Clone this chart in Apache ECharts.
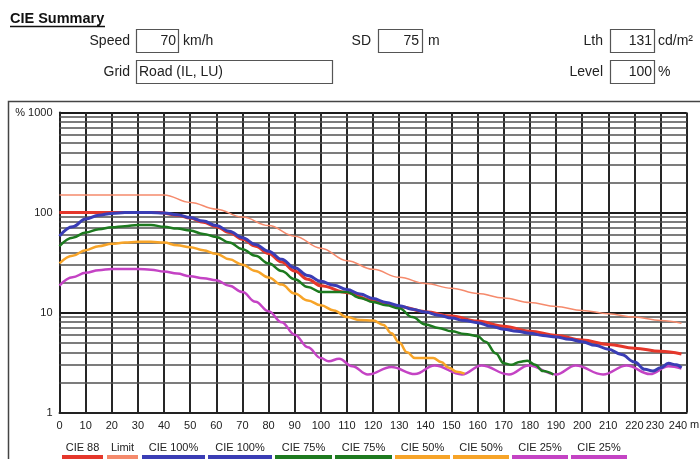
<!DOCTYPE html>
<html>
<head>
<meta charset="utf-8">
<script src="https://cdn.jsdelivr.net/npm/echarts@6/dist/echarts.min.js"></script>
<style>
  html, body { margin: 0; padding: 0; background: #fff; }
  #chart { width: 700px; height: 459px; }
</style>
</head>
<body>
<div id="chart"></div>
<script>
// distances (m) and relative luminance (%)
const limitDist = [0, 40, 50, 60, 70, 80, 90, 100, 110, 120, 130, 140, 150, 160, 170, 180, 190, 200, 210, 220, 230, 238];
const limitVal = [150, 150, 126, 108, 90, 74, 58, 44, 33, 27, 22.5, 19.5, 17.5, 15.5, 14, 12.6, 11.5, 10.5, 9.7, 9, 8.3, 7.8];

const cie88Dist = [0, 10, 20, 30, 38, 45, 50, 55, 60, 65, 70, 75, 80, 85, 90, 95, 100, 110, 120, 130, 140, 150, 160, 170, 180, 190, 200, 210, 220, 230, 238];
const cie88Val = [100, 100, 100, 100, 100, 94, 88, 80, 72, 63, 54, 46, 39, 32, 26, 21.5, 18.5, 15.8, 13.2, 11.5, 10.2, 9.2, 8.2, 7.3, 6.5, 5.9, 5.3, 4.8, 4.4, 4.1, 3.85];

const cie100Dist = [0, 5, 10, 15, 20, 25, 30, 35, 40, 45, 50, 55, 60, 65, 70, 75, 80, 85, 90, 95, 100, 105, 110, 115, 120, 125, 130, 135, 140, 145, 150, 155, 160, 165, 170, 175, 180, 185, 190, 195, 200, 205, 210, 215, 220, 224, 227, 230, 233, 236, 238];
const cie100Val = [58, 72, 86, 94, 98, 100, 100, 100, 99, 95, 89, 82, 74, 65, 56, 48, 41, 34, 28, 23.5, 20.5, 18.7, 17, 15.3, 13.8, 12.6, 11.7, 10.8, 10.1, 9.4, 8.8, 8.3, 7.9, 7.3, 6.8, 6.5, 6.2, 5.9, 5.7, 5.4, 5.1, 4.7, 4.3, 3.8, 3.2, 2.7, 2.6, 2.8, 3.1, 3.0, 2.8];

const cie75Dist = [0, 5, 10, 15, 20, 25, 30, 35, 40, 45, 50, 55, 60, 65, 70, 75, 80, 85, 90, 95, 100, 105, 110, 115, 120, 125, 130, 135, 140, 145, 150, 155, 160, 163, 167, 170, 173, 176, 179, 182, 185, 189];
const cie75Val = [46, 56, 63, 68, 71, 73, 75, 75, 72, 69, 66, 61, 57, 50, 43, 37, 31, 26, 21.5, 18, 16, 16, 16, 14, 12.7, 11.8, 11, 9, 7.6, 7, 6.5, 6.1, 5.8, 5.1, 3.9, 3.1, 3.0, 3.2, 3.3, 3.0, 2.6, 2.4];

const cie50Dist = [0, 5, 10, 15, 20, 25, 30, 35, 40, 45, 50, 55, 60, 65, 70, 75, 80, 85, 90, 95, 100, 105, 110, 115, 120, 124, 127, 130, 133, 136, 140, 143, 146, 149, 152, 155];
const cie50Val = [31, 37, 42, 46, 48.6, 50, 51, 51, 50, 47, 45, 42, 38.6, 34, 30, 26, 22.4, 19, 15.5, 13.2, 11.8, 10.5, 9, 8.4, 8.3, 7.5, 6.2, 5.0, 4.0, 3.5, 3.5, 3.5, 3.2, 2.8, 2.55, 2.45];

const cie25Dist = [0, 5, 10, 15, 20, 25, 30, 35, 40, 45, 50, 55, 60, 65, 70, 75, 80, 85, 90, 95, 100, 103, 107, 112, 118, 127, 136, 143.5, 154, 161.5, 172, 179.5, 190, 197.5, 208, 217, 226, 233, 238];
const cie25Val = [18.6, 22.5, 25, 26.5, 27.2, 27.3, 27.2, 26.8, 25.7, 24.5, 23, 22, 21, 18.5, 16, 12.8, 10.3, 8, 6, 4.5, 3.5, 3.25, 3.45, 2.9, 2.4, 2.85, 2.42, 2.95, 2.4, 2.95, 2.4, 2.95, 2.4, 2.95, 2.4, 2.95, 2.42, 2.9, 2.75];

// grid lines between the decades
const minorLevels = [2, 3, 4, 5, 6, 7, 8, 9, 20, 30, 40, 50, 60, 70, 80, 90, 200, 300, 400, 500, 600, 700, 800, 900];

// legend entries below the chart
const legendNames = ['CIE 88', 'Limit', 'CIE 100%', 'CIE 100%', 'CIE 75%', 'CIE 75%', 'CIE 50%', 'CIE 50%', 'CIE 25%', 'CIE 25%'];

// header values
const speed = '70';
const sd = '75';
const lth = '131';
const level = '100';
const gridName = 'Road (IL, LU)';

const colors = {
  limit: '#f58a6c',
  cie88: '#e5372b',
  cie100: '#3a3db5',
  cie75: '#1d7a1f',
  cie50: '#f7a428',
  cie25: '#c443c4'
};
const legendColors = [colors.cie88, colors.limit, colors.cie100, colors.cie100, colors.cie75, colors.cie75, colors.cie50, colors.cie50, colors.cie25, colors.cie25];
const legendBars = [[62, 103], [107, 138], [142, 205], [208, 272], [275, 332], [335, 392], [395, 450], [453, 509], [512, 568], [571, 627]];

const FONT = '"Liberation Sans", Arial, sans-serif';
const pair = (xs, ys) => xs.map((x, i) => [x, ys[i]]);

const chart = echarts.init(document.getElementById('chart'), null, { renderer: 'canvas' });

const txt = (text, x, y, align) => ({
  type: 'text',
  style: { text: text, x: x, y: y, align: align, verticalAlign: 'middle', font: '14px ' + FONT, fill: '#222' }
});
const box = (x, y, w, h) => ({
  type: 'rect',
  shape: { x: x, y: y, width: w, height: h },
  style: { fill: '#fff', stroke: '#555', lineWidth: 1.2 }
});

const graphics = [
  // outer frame
  { type: 'rect', shape: { x: 8.5, y: 101.5, width: 700, height: 400 }, style: { fill: 'none', stroke: '#444', lineWidth: 1.5 }, z: -1 },
  // title
  { type: 'text', style: { text: 'CIE Summary', x: 10, y: 19, verticalAlign: 'middle', font: 'bold 14.5px ' + FONT, fill: '#111' } },
  { type: 'line', shape: { x1: 10, y1: 26.5, x2: 105, y2: 26.5 }, style: { stroke: '#111', lineWidth: 1.5 } },
  // row 1
  txt('Speed', 130, 41.5, 'right'), box(136.5, 29.5, 42, 23), txt(speed, 176, 41.5, 'right'), txt('km/h', 183, 41.5, 'left'),
  txt('SD', 371, 41.5, 'right'), box(378.5, 29.5, 44, 23), txt(sd, 419, 41.5, 'right'), txt('m', 428, 41.5, 'left'),
  txt('Lth', 603, 41.5, 'right'), box(610.5, 29.5, 44, 23), txt(lth, 652, 41.5, 'right'), txt('cd/m²', 658, 41.5, 'left'),
  // row 2
  txt('Grid', 130, 72, 'right'), box(136.5, 60.5, 196, 23), txt(gridName, 139, 72, 'left'),
  txt('Level', 603, 72, 'right'), box(610.5, 60.5, 44, 23), txt(level, 652, 72, 'right'), txt('%', 658, 72, 'left'),
  // axis unit
  { type: 'text', style: { text: 'm', x: 690, y: 425, verticalAlign: 'middle', font: '11px ' + FONT, fill: '#222' } }
];

legendNames.forEach((name, i) => {
  const [x0, x1] = legendBars[i];
  graphics.push({ type: 'text', style: { text: name, x: (x0 + x1) / 2, y: 448, align: 'center', verticalAlign: 'middle', font: '11px ' + FONT, fill: '#222' } });
  graphics.push({ type: 'rect', shape: { x: x0, y: 455, width: x1 - x0, height: 5 }, style: { fill: legendColors[i] } });
});

const lineSeries = (name, data, color, width) => ({
  name: name,
  type: 'line',
  z: 10,
  data: data,
  smooth: 0.4,
  smoothMonotone: 'x',
  showSymbol: false,
  symbol: 'none',
  silent: true,
  lineStyle: { color: color, width: width },
  itemStyle: { color: color }
});

// the last two distance labels sit squeezed together, as in the original
const xLabel = v => (v === 240 ? '{last|240}' : v === 230 ? '{prev|230}' : String(v));

const option = {
  animation: false,
  backgroundColor: '#fff',
  textStyle: { fontFamily: FONT },
  grid: { left: 59.5, right: 13.3, top: 112.5, bottom: 46.5 },
  xAxis: {
    type: 'value',
    min: 0,
    max: 240,
    interval: 10,
    axisLine: { show: true, lineStyle: { color: '#222', width: 2 } },
    axisTick: { show: false },
    axisLabel: {
      fontSize: 11,
      color: '#222',
      margin: 8,
      showMinLabel: true,
      showMaxLabel: true,
      hideOverlap: false,
      formatter: xLabel,
      rich: {
        prev: { width: 7, align: 'right', fontSize: 11, color: '#222' },
        last: { width: 1, align: 'right', fontSize: 11, color: '#222' }
      }
    },
    splitLine: { show: true, lineStyle: { color: '#262626', width: 2 } }
  },
  yAxis: {
    type: 'log',
    logBase: 10,
    min: 1,
    max: 1000,
    axisLine: { show: true, lineStyle: { color: '#222', width: 2 } },
    axisTick: { show: false },
    axisLabel: {
      fontSize: 11,
      color: '#222',
      margin: 7,
      formatter: v => (v >= 999 ? '% 1000' : String(Math.round(v)))
    },
    splitLine: { show: true, lineStyle: { color: '#1c1c1c', width: 2.2 } }
  },
  graphic: graphics,
  series: [
    {
      name: 'grid',
      type: 'line',
      z: 1,
      data: [],
      silent: true,
      markLine: {
        z: 1,
        silent: true,
        animation: false,
        symbol: ['none', 'none'],
        label: { show: false },
        lineStyle: { color: '#505050', width: 1.6, type: 'solid' },
        emphasis: { disabled: true },
        data: minorLevels.map(v => ({ yAxis: v }))
      }
    },
    lineSeries('Limit', pair(limitDist, limitVal), colors.limit, 1.5),
    lineSeries('CIE 88', pair(cie88Dist, cie88Val), colors.cie88, 3),
    lineSeries('CIE 25%', pair(cie25Dist, cie25Val), colors.cie25, 2.5),
    lineSeries('CIE 50%', pair(cie50Dist, cie50Val), colors.cie50, 2.5),
    lineSeries('CIE 75%', pair(cie75Dist, cie75Val), colors.cie75, 2.5),
    lineSeries('CIE 100%', pair(cie100Dist, cie100Val), colors.cie100, 3)
  ]
};

chart.setOption(option);
</script>
</body>
</html>
